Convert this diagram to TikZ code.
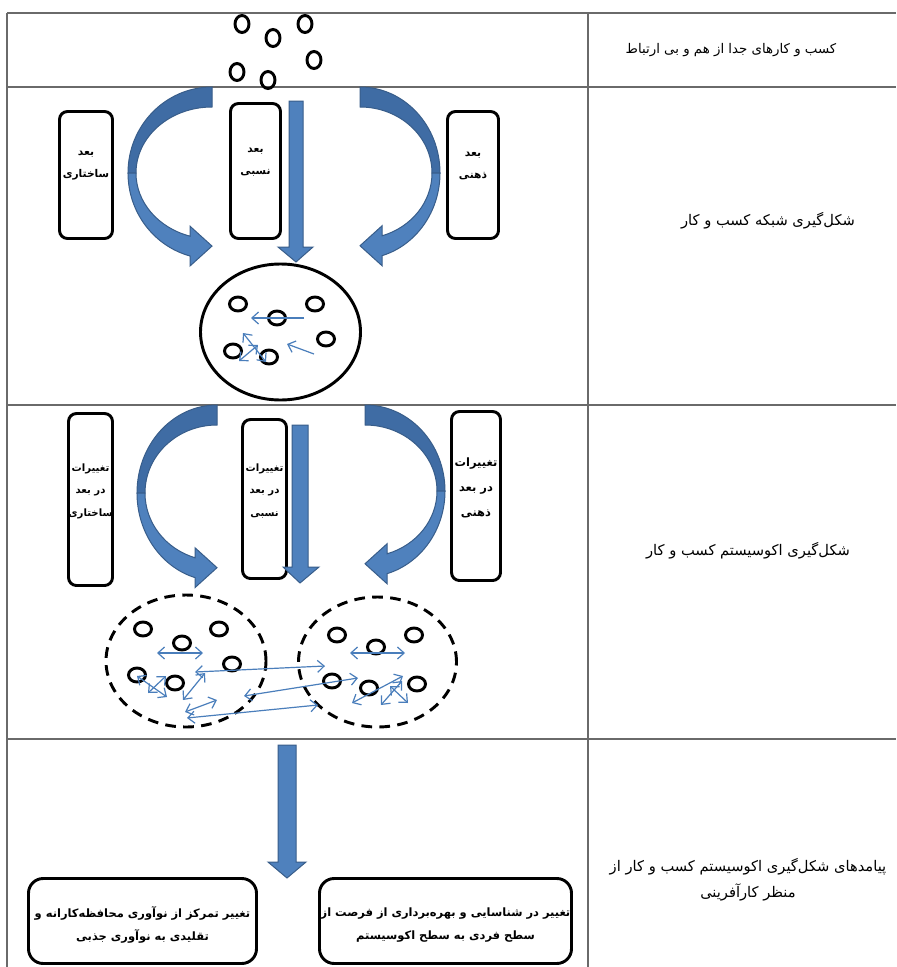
\documentclass[tikz,border=0pt]{standalone}
\usepackage{fontspec}
\newfontfamily\fa[Script=Arabic]{DejaVu Sans}
\TeXXeTstate=1
\usetikzlibrary{arrows.meta,shapes.geometric}
\newcommand{\RTLtxt}[1]{\beginR #1\endR}
\definecolor{bluefill}{HTML}{4F81BD}
\definecolor{blueback}{HTML}{3F6CA4}
\definecolor{blueline}{HTML}{385D8A}
\definecolor{thinblue}{HTML}{4A7EBB}
\definecolor{gridgray}{HTML}{6A6A6A}
\tikzset{
  gridline/.style={draw=gridgray, line width=1.2pt},
  dot/.style={draw=black, line width=2.2pt, ellipse, minimum width=10.5pt, minimum height=12.75pt, inner sep=0pt},
  dotw/.style={dot, minimum width=12.75pt, minimum height=10.5pt},
  bigring/.style={draw=black, line width=2.2pt, ellipse, inner sep=0pt},
  dashring/.style={bigring, dash pattern=on 8pt off 5.5pt},
  box/.style={draw=black, line width=2.2pt, rounded corners=6pt, inner sep=0pt},
  bigbox/.style={box, rounded corners=11pt},
  boxtxt/.style={font=\fa\bfseries\fontsize{8}{16.5}\selectfont, align=center, inner sep=0pt},
  boxtxtc/.style={font=\fa\bfseries\fontsize{7.6}{16.9}\selectfont, align=center, inner sep=0pt},
  boxtxtb/.style={font=\fa\bfseries\fontsize{8.6}{19}\selectfont, align=center, inner sep=0pt},
  bottxt/.style={font=\fa\bfseries\fontsize{8.6}{17.25}\selectfont, align=center, inner sep=0pt},
  coltxt/.style={font=\fa\fontsize{11}{19.5}\selectfont, align=center, inner sep=0pt},
  link/.style={draw=thinblue, line width=0.9pt, {Straight Barb[length=5pt,width=9pt]}-{Straight Barb[length=5pt,width=9pt]}},
  linkone/.style={draw=thinblue, line width=0.9pt, -{Straight Barb[length=5pt,width=9pt]}},
  blockarrow/.style={fill=bluefill, draw=blueline, line width=0.75pt},
  blockback/.style={fill=blueback, draw=blueline, line width=0.75pt},
}
% curved block arrow: tail x, tail top y, mirror (1/-1), x radius, y radius
\newcommand{\curvedblock}[5]{%
\begin{scope}[shift={(#1,#2)}, xscale=#3]
\pgfmathsetmacro{\rxa}{#4}
\pgfmathsetmacro{\rya}{#5}
\pgfmathsetmacro{\rxb}{#4-8}
\pgfmathsetmacro{\ryb}{#5-20}
\pgfmathsetmacro{\ta}{acos(-22/\rxa)}
\pgfmathsetmacro{\tb}{acos(-22/\rxb)}
\pgfmathsetmacro{\ya}{\rya+\rya*sin(\ta)}
\pgfmathsetmacro{\yb}{\rya+\ryb*sin(\tb)}
\pgfmathsetmacro{\ymid}{(\ya+\yb)/2}
\path[blockback] (0,0) arc[start angle=270, end angle=180, x radius=\rxa, y radius=\rya] -- (-\rxb,\rya) arc[start angle=180, end angle=270, x radius=\rxb, y radius=\ryb] -- cycle;
\path[blockarrow] (-\rxa,\rya) arc[start angle=180, end angle=\ta, x radius=\rxa, y radius=\rya] -- (-22,\ya+10) -- (0,\ymid) -- (-22,\yb-10) -- (-22,\yb) arc[start angle=\tb, end angle=180, x radius=\rxb, y radius=\ryb] -- cycle;
\end{scope}}
% thin connector between two named coordinates
\newcommand{\linkarrow}[4]{%
\coordinate (#1-a) at (#3); \coordinate (#1-b) at (#4);
\draw[#2] (#1-a) -- (#1-b);}
\begin{document}
\begin{tikzpicture}[x=0.75pt,y=-0.75pt]
\useasboundingbox (0,0) rectangle (896,967);
\fill[white] (0,0) rectangle (896,967);

% table grid
\draw[gridline] (7,13) -- (896,13);
\draw[gridline] (7,87) -- (896,87);
\draw[gridline] (7,405) -- (896,405);
\draw[gridline] (7,739) -- (896,739);
\draw[gridline] (7,13) -- (7,967);
\draw[gridline] (588,13) -- (588,967);

% right column texts
\node[coltxt, font=\fa\fontsize{10}{19.5}\selectfont] (t1) at (731,50) {\RTLtxt{کسب و کارهای جدا از هم و بی ارتباط}};
\node[coltxt] (t2) at (768,221) {\RTLtxt{شکل‌گیری شبکه کسب و کار}};
\node[coltxt] (t3) at (748,551) {\RTLtxt{شکل‌گیری اکوسیستم کسب و کار}};
\node[coltxt] (t4) at (748,880) {\RTLtxt{پیامدهای شکل‌گیری اکوسیستم کسب و کار از}\\ \RTLtxt{منظر کارآفرینی}};

% row 1: separate businesses
\node[dot] (r1a) at (242,24) {};
\node[dot] (r1b) at (273,38) {};
\node[dot] (r1c) at (305,24) {};
\node[dot] (r1d) at (314,60) {};
\node[dot] (r1e) at (237,72) {};
\node[dot] (r1f) at (268,80) {};

% row 2: network
\node[bigring, minimum width=120pt, minimum height=102pt] (net) at (280.5,332) {};
\node[dotw] (r2a) at (238,304) {};
\node[dotw] (r2b) at (277,318) {};
\node[dotw] (r2c) at (315,304) {};
\node[dotw] (r2d) at (326,339) {};
\node[dotw] (r2e) at (233,351) {};
\node[dotw] (r2f) at (269,357) {};
\linkarrow{n1}{linkone}{304,318}{251,318}
\linkarrow{n2}{linkone}{314,354}{287,344}
\linkarrow{n3}{link}{243,333}{266,362}
\linkarrow{n4}{link}{239,361}{258,345}

\node[box, minimum width=39.75pt, minimum height=95.25pt] (b2l) at (86,175) {};
\node[box, minimum width=37.5pt, minimum height=101.25pt] (b2m) at (255.5,171) {};
\node[box, minimum width=38.25pt, minimum height=95.25pt] (b2r) at (473,175) {};
\node[boxtxt] (b2lt) at (86,166) {\RTLtxt{بعد}\\ \RTLtxt{ساختاری}};
\node[boxtxt] (b2mt) at (255.5,162) {\RTLtxt{بعد}\\ \RTLtxt{نسبی}};
\node[boxtxt] (b2rt) at (473,166) {\RTLtxt{بعد}\\ \RTLtxt{ذهنی}};

\curvedblock{212}{87}{1}{84}{86}
\curvedblock{360}{87}{-1}{80}{86}
\path[blockarrow] (289,101) -- (303,101) -- (303,247) -- (313,247) -- (296,262) -- (278,247) -- (289,247) -- cycle;

% row 3: ecosystem
\node[dashring, minimum width=120pt, minimum height=99pt] (ecoL) at (186,661) {};
\node[dashring, minimum width=118.5pt, minimum height=97.5pt] (ecoR) at (377.5,662) {};
\node[dotw] (l1) at (143,629) {};
\node[dotw] (l2) at (182,643) {};
\node[dotw] (l3) at (219,629) {};
\node[dotw] (l4) at (232,664) {};
\node[dotw] (l5) at (137,675) {};
\node[dotw] (l6) at (175,683) {};
\node[dotw] (q1) at (337,635) {};
\node[dotw] (q2) at (376,647) {};
\node[dotw] (q3) at (414,635) {};
\node[dotw] (q4) at (332,681) {};
\node[dotw] (q5) at (369,688) {};
\node[dotw] (q6) at (417,684) {};
\linkarrow{e1}{link}{157,653}{203,653}
\linkarrow{e2}{link}{350,653}{405,653}
\linkarrow{e3}{link}{195,672}{325,666}
\linkarrow{e4}{link}{244,696}{358,678}
\linkarrow{e5}{link}{187,718}{318,705}
\linkarrow{e6}{link}{185,712}{217,700}
\linkarrow{e7}{link}{183,700}{205,673}
\linkarrow{e8}{link}{137,676}{167,697}
\linkarrow{e9}{link}{148,693}{166,676}
\linkarrow{e10}{link}{352,703}{403,676}
\linkarrow{e11}{link}{381,705}{402,681}
\linkarrow{e12}{link}{408,703}{390,686}

\node[box, minimum width=33pt, minimum height=129pt] (b3l) at (90.5,499.5) {};
\node[box, minimum width=33pt, minimum height=119.25pt] (b3m) at (264.5,499) {};
\node[box, minimum width=36.75pt, minimum height=126.75pt] (b3r) at (476,496) {};
\node[boxtxtc] (b3lt) at (90.5,491) {\RTLtxt{تغییرات}\\ \RTLtxt{در بعد}\\ \RTLtxt{ساختاری}};
\node[boxtxtc] (b3mt) at (264.5,491) {\RTLtxt{تغییرات}\\ \RTLtxt{در بعد}\\ \RTLtxt{نسبی}};
\node[boxtxtb] (b3rt) at (476,488) {\RTLtxt{تغییرات}\\ \RTLtxt{در بعد}\\ \RTLtxt{ذهنی}};

\curvedblock{217}{405}{1}{80}{88}
\curvedblock{365}{405}{-1}{80}{86}
\path[blockarrow] (292,425) -- (308,425) -- (308,567) -- (319,567) -- (300,583) -- (283,567) -- (292,567) -- cycle;

% row 4: outcomes
\path[blockarrow] (278,745) -- (296,745) -- (296,862) -- (306,862) -- (287,878) -- (268,862) -- (278,862) -- cycle;
\node[bigbox, minimum width=171pt, minimum height=63.75pt] (o1) at (142.5,921) {};
\node[bigbox, minimum width=189pt, minimum height=63.75pt] (o2) at (445.5,921) {};
\node[bottxt] (o1t) at (142.5,925) {\RTLtxt{تغییر تمرکز از نوآوری محافظه‌کارانه و}\\ \RTLtxt{تقلیدی به نوآوری جذبی}};
\node[bottxt] (o2t) at (445.5,925) {\RTLtxt{تغییر در شناسایی و بهره‌برداری از فرصت از}\\ \RTLtxt{سطح فردی به سطح اکوسیستم}};
\end{tikzpicture}
\end{document}
